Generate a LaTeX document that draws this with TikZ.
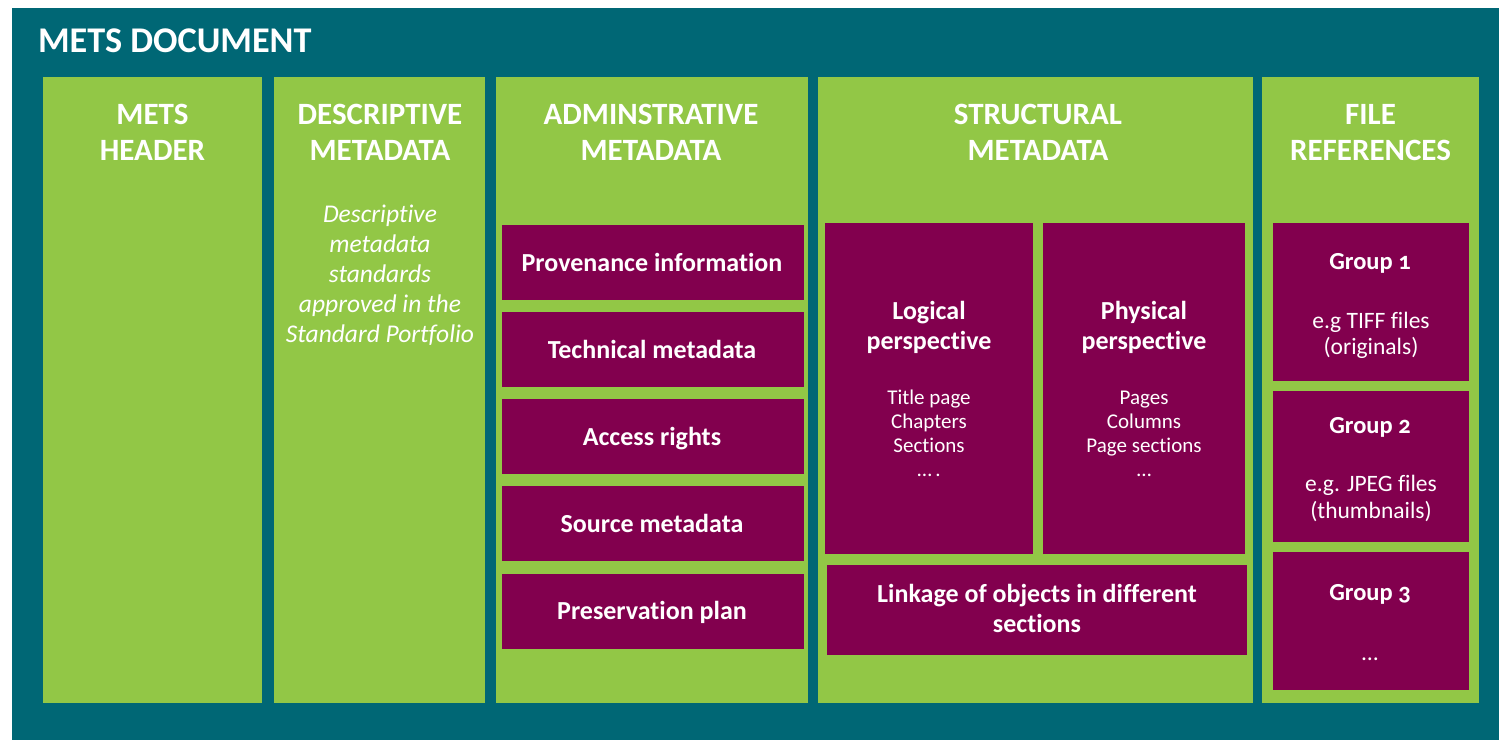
\documentclass[tikz,border=0pt]{standalone}
\usepackage{fontspec}
\setmainfont{Carlito}[Numbers=OldStyle,Ligatures=NoCommon]
\definecolor{metsteal}{HTML}{006775}
\definecolor{metsgreen}{HTML}{92C746}
\definecolor{metsmag}{HTML}{82004E}
\begin{document}
\begin{tikzpicture}[x=1pt,y=-1pt,
  rectbox/.style={anchor=north west,inner sep=0pt,outer sep=0pt,draw=none},
  docbox/.style={rectbox,fill=metsteal},
  colbox/.style={rectbox,fill=metsgreen},
  magbox/.style={rectbox,fill=metsmag},
  txt/.style={anchor=base,inner sep=0pt,outer sep=0pt,text=white},
  titlefont/.style={txt,anchor=base west,font=\bfseries\fontsize{36.2}{40}\selectfont},
  headfont/.style={txt,font=\bfseries\fontsize{31}{36}\selectfont},
  descfont/.style={txt,font=\itshape\fontsize{25.5}{30}\selectfont},
  boldfont/.style={txt,font=\bfseries\fontsize{26}{30}\selectfont},
  listfont/.style={txt,font=\fontsize{21}{24}\selectfont},
  grpbold/.style={txt,font=\bfseries\fontsize{24.5}{28}\selectfont},
  grpfont/.style={txt,font=\fontsize{23.5}{26}\selectfont}
]
\useasboundingbox (0,0) rectangle (1499,740);
% document background
\node[docbox,minimum width=1487pt,minimum height=732pt] (doc) at (12,8) {};
\node[titlefont] (title) at (38,52) {METS DOCUMENT};
% columns
\node[colbox,minimum width=219pt,minimum height=626pt] (c1) at (43,77) {};
\node[colbox,minimum width=211pt,minimum height=626pt] (c2) at (274,77) {};
\node[colbox,minimum width=312pt,minimum height=626pt] (c3) at (496,77) {};
\node[colbox,minimum width=435pt,minimum height=626pt] (c4) at (818,77) {};
\node[colbox,minimum width=217pt,minimum height=626pt] (c5) at (1262,77) {};
% headers
\node[headfont] (h1a) at (152.5,124) {METS};
\node[headfont] (h1b) at (152.5,160) {HEADER};
\node[headfont] (h2a) at (380,124) {DESCRIPTIVE};
\node[headfont] (h2b) at (380,160) {METADATA};
\node[headfont] (h3a) at (651,124) {ADMINSTRATIVE};
\node[headfont] (h3b) at (651,160) {METADATA};
\node[headfont] (h4a) at (1038,124) {STRUCTURAL};
\node[headfont] (h4b) at (1038,160) {METADATA};
\node[headfont] (h5a) at (1370.5,124) {FILE};
\node[headfont] (h5b) at (1370.5,160) {REFERENCES};
% descriptive text
\node[descfont] (d1) at (380,222) {Descriptive};
\node[descfont] (d2) at (380,252) {metadata};
\node[descfont] (d3) at (380,282) {standards};
\node[descfont] (d4) at (380,312) {approved in the};
\node[descfont] (d5) at (380,342) {Standard Portfolio};
% administrative boxes
\node[magbox,minimum width=302pt,minimum height=75pt] (a1) at (502,225) {};
\node[magbox,minimum width=302pt,minimum height=75pt] (a2) at (502,312) {};
\node[magbox,minimum width=302pt,minimum height=75pt] (a3) at (502,399) {};
\node[magbox,minimum width=302pt,minimum height=75pt] (a4) at (502,486) {};
\node[magbox,minimum width=302pt,minimum height=75pt] (a5) at (502,574) {};
\node[boldfont] (a1t) at (652,271) {Provenance information};
\node[boldfont] (a2t) at (652,358) {Technical metadata};
\node[boldfont] (a3t) at (652,445) {Access rights};
\node[boldfont] (a4t) at (652,532) {Source metadata};
\node[boldfont] (a5t) at (652,619) {Preservation plan};
% structural boxes
\node[magbox,minimum width=208pt,minimum height=331pt] (lg) at (825,223) {};
\node[magbox,minimum width=202pt,minimum height=331pt] (ph) at (1043,223) {};
\node[magbox,minimum width=420pt,minimum height=90pt] (lk) at (827,565) {};
\node[boldfont] (lg1) at (929,319) {Logical};
\node[boldfont] (lg2) at (929,349) {perspective};
\node[listfont] (lg3) at (929,404) {Title page};
\node[listfont] (lg4) at (929,428) {Chapters};
\node[listfont] (lg5) at (929,452) {Sections};
\node[listfont] (lg6) at (929,476) {…\,.};
\node[boldfont] (ph1) at (1144,319) {Physical};
\node[boldfont] (ph2) at (1144,349) {perspective};
\node[listfont] (ph3) at (1144,404) {Pages};
\node[listfont] (ph4) at (1144,428) {Columns};
\node[listfont] (ph5) at (1144,452) {Page sections};
\node[listfont] (ph6) at (1144,476) {…};
\node[boldfont] (lk1) at (1037,602) {Linkage of objects in different};
\node[boldfont] (lk2) at (1037,632) {sections};
% file groups
\node[magbox,minimum width=196pt,minimum height=158pt] (g1) at (1273,223) {};
\node[magbox,minimum width=196pt,minimum height=151pt] (g2) at (1273,391) {};
\node[magbox,minimum width=196pt,minimum height=138pt] (g3) at (1273,552) {};
\node[grpbold] (g1a) at (1370,269) {Group 1};
\node[grpfont] (g1b) at (1371,328) {e.g TIFF files};
\node[grpfont] (g1c) at (1371,354) {(originals)};
\node[grpbold] (g2a) at (1370,433) {Group 2};
\node[grpfont] (g2b) at (1371,491) {e.g. JPEG files};
\node[grpfont] (g2c) at (1371,518) {(thumbnails)};
\node[grpbold] (g3a) at (1370,600) {Group 3};
\node[grpfont] (g3b) at (1370,660) {…};
\end{tikzpicture}
\end{document}
